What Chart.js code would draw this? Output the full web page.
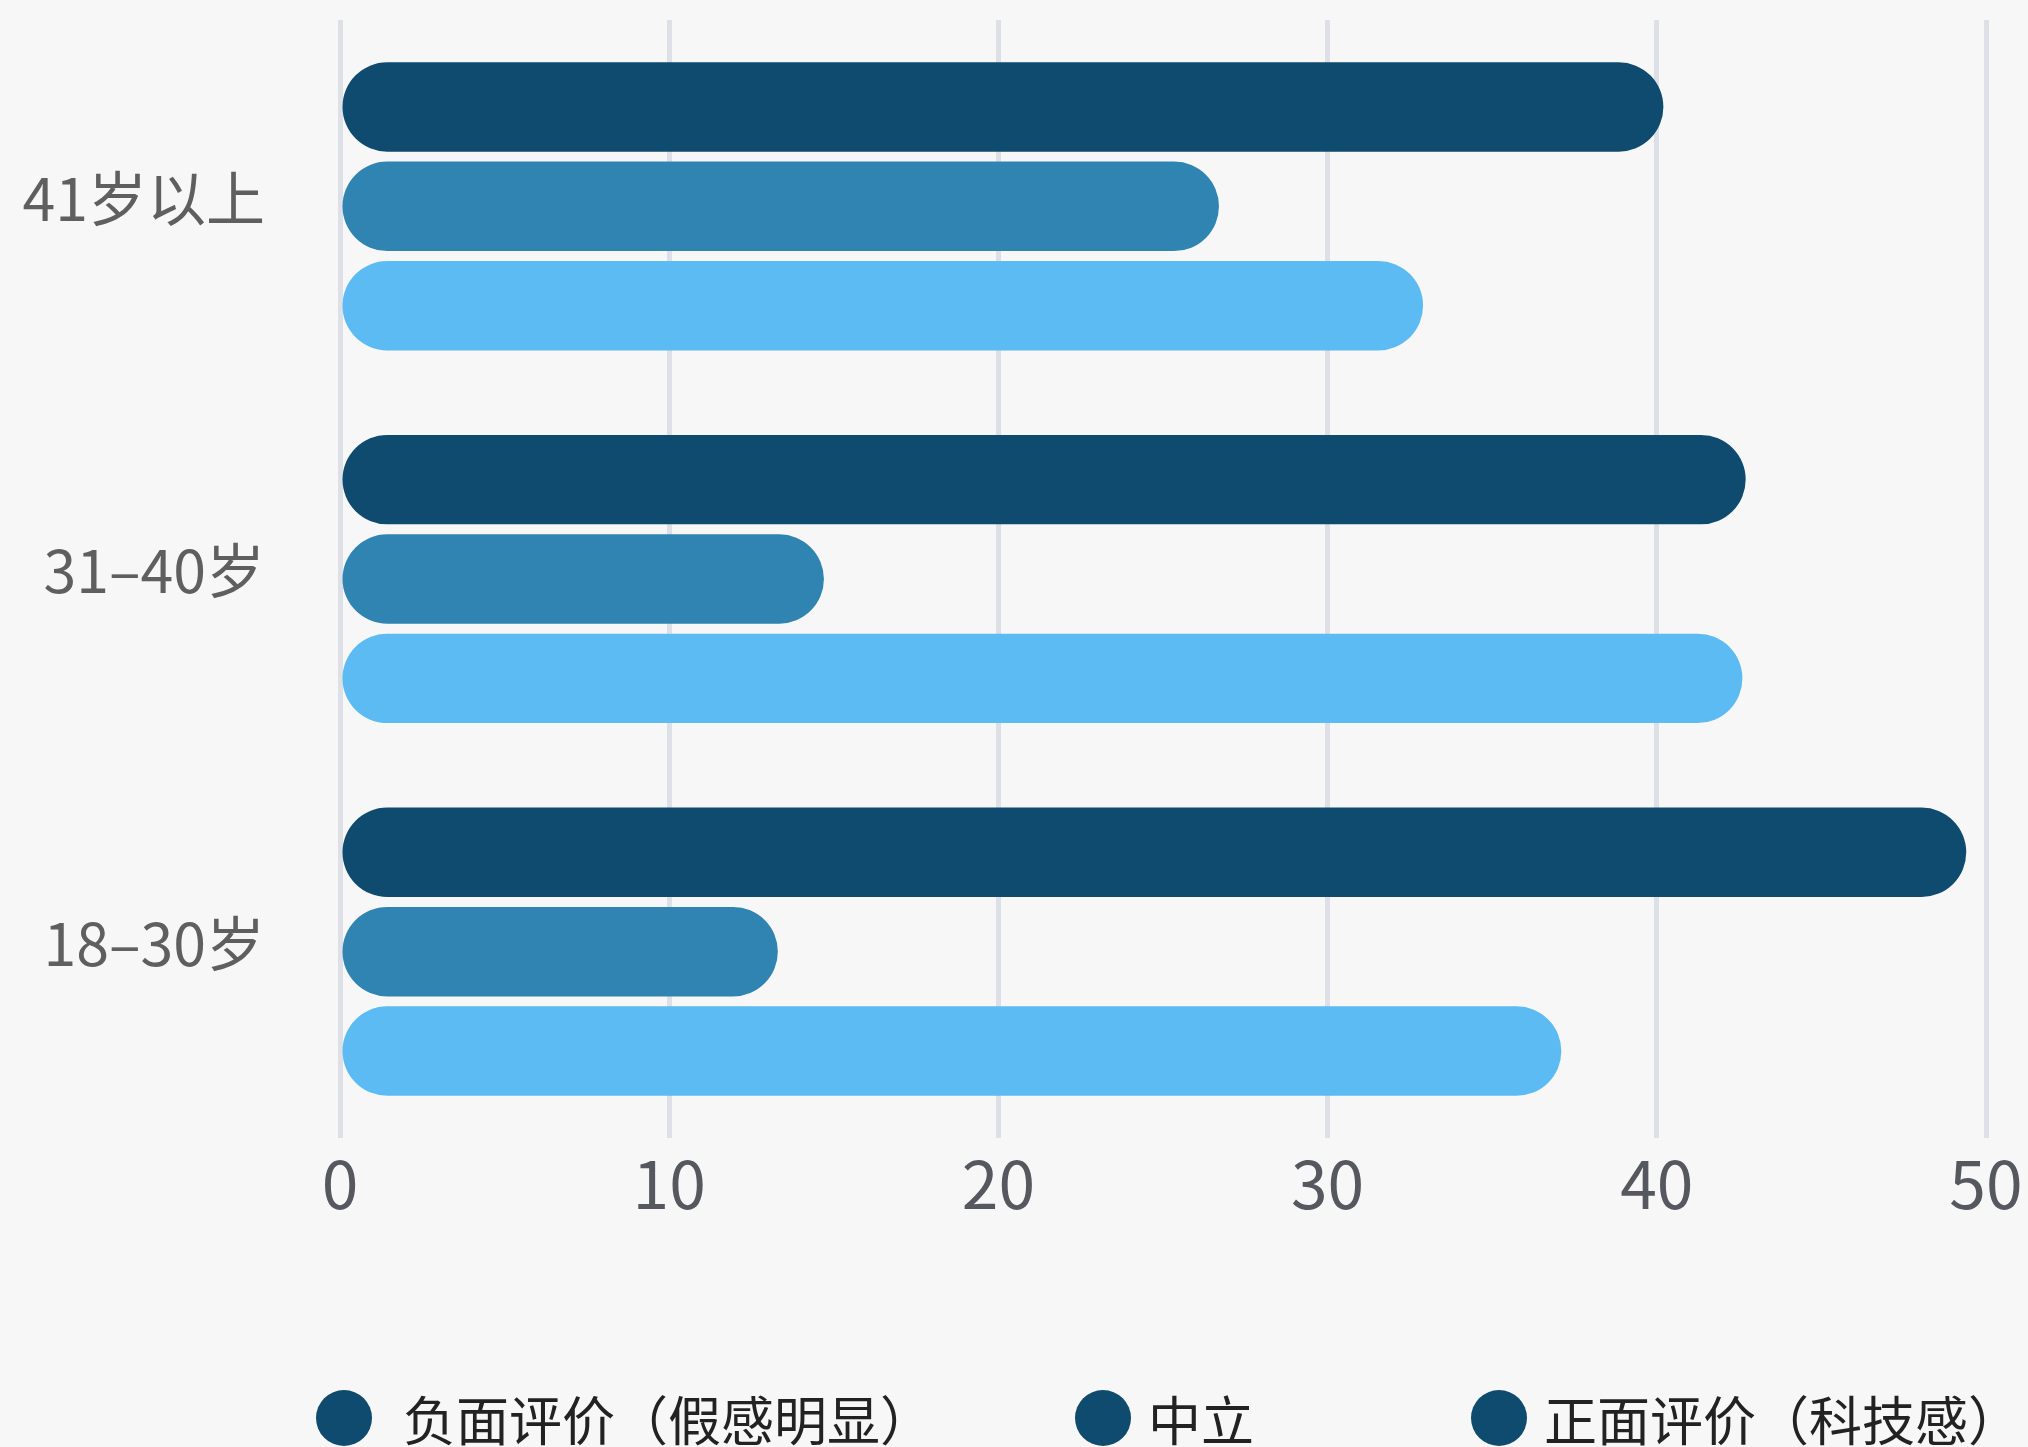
<!DOCTYPE html>
<html lang="zh-CN">
<head>
<meta charset="utf-8">
<title>不同年龄段评价分布</title>
<script src="https://cdn.jsdelivr.net/npm/chart.js@4.4.1/dist/chart.umd.min.js"></script>
<style>
    html, body { margin: 0; padding: 0; background: #f7f7f7; }
    .wrap { position: relative; width: 2028px; height: 1447px; overflow: hidden; }
    #ageChart { position: absolute; left: 0; top: 0; }
    .legend {
        position: absolute; left: 316px; top: 1390px;
        display: flex; align-items: center;
        font-family: "Noto Sans CJK SC", sans-serif; font-size: 53px; color: #222;
    }
    .legend-item { display: flex; align-items: center; height: 56px; }
    .legend-item:nth-child(2) { margin-left: 142px; }
    .legend-item:nth-child(3) { margin-left: 217px; }
    .legend-dot { width: 56px; height: 56px; border-radius: 50%; margin-right: 17px; }
    .legend-item:first-child .legend-dot { margin-right: 31px; }
    .legend-item span { line-height: 1; white-space: nowrap; }
</style>
</head>
<body>
<div class="wrap">
    <canvas id="ageChart" width="2028" height="1447"></canvas>
    <div class="legend" id="ageLegend"></div>
</div>
<script>
// Age groups (top to bottom) and share of each rating, in %
const ageGroups = ["41岁以上", "31–40岁", "18–30岁"];
const seriesNames = ["负面评价（假感明显）", "中立", "正面评价（科技感）"];
const negative = [40.2, 42.7, 49.4];
const neutral = [26.7, 14.7, 13.3];
const positive = [32.9, 42.6, 37.1];
const xTicks = [0, 10, 20, 30, 40, 50];

const barColors = ["#0e4b6e", "#3084b1", "#5bbbf2"];
const legendColor = "#0e4b6e";

Chart.defaults.font.family = "'Noto Sans CJK SC', sans-serif";

function makeDataset(i, values) {
    return {
        label: seriesNames[i],
        data: values,
        backgroundColor: barColors[i],
        borderWidth: 0,
        borderRadius: 60,
        borderSkipped: false,
    };
}

const ctx = document.getElementById("ageChart").getContext("2d");
window.ageChart = new Chart(ctx, {
    type: "bar",
    data: {
        labels: ageGroups,
        datasets: [
            makeDataset(0, negative),
            makeDataset(1, neutral),
            makeDataset(2, positive),
        ],
    },
    options: {
        indexAxis: "y",
        responsive: false,
        animation: false,
        layout: {
            padding: { top: 20, right: 42, bottom: 0, left: 0 },
        },
        plugins: {
            legend: { display: false },
            tooltip: { enabled: false },
        },
        scales: {
            x: {
                min: xTicks[0],
                max: xTicks[xTicks.length - 1],
                afterBuildTicks: function (scale) {
                    scale.ticks = xTicks.map(v => ({ value: v }));
                },
                afterFit: function (scale) {
                    scale.height = 309;
                    // the right margin already leaves room for the "50" label
                    scale.paddingLeft = 0;
                    scale.paddingRight = 0;
                },
                border: { display: false },
                grid: {
                    color: "#dde0e7",
                    lineWidth: 5,
                    drawTicks: false,
                },
                ticks: {
                    padding: 6,
                    color: "#55585e",
                    font: { size: 66 },
                },
            },
            y: {
                afterFit: function (scale) {
                    // fixed label column; labels sit well inside the bands,
                    // so no extra room above/below the plot is needed
                    scale.width = 340;
                    scale.paddingTop = 0;
                    scale.paddingBottom = 0;
                },
                border: { display: false },
                grid: { display: false, drawTicks: false },
                ticks: {
                    padding: 75,
                    labelOffset: -8,
                    color: "#5f5f5f",
                    font: { size: 59 },
                },
            },
        },
    },
});

// Legend built as HTML from the chart's datasets
const legendBox = document.getElementById("ageLegend");
window.ageChart.data.datasets.forEach(function (ds) {
    const item = document.createElement("div");
    item.className = "legend-item";
    const dot = document.createElement("div");
    dot.className = "legend-dot";
    dot.style.background = legendColor;
    const text = document.createElement("span");
    text.textContent = ds.label;
    item.appendChild(dot);
    item.appendChild(text);
    legendBox.appendChild(item);
});
</script>
</body>
</html>
